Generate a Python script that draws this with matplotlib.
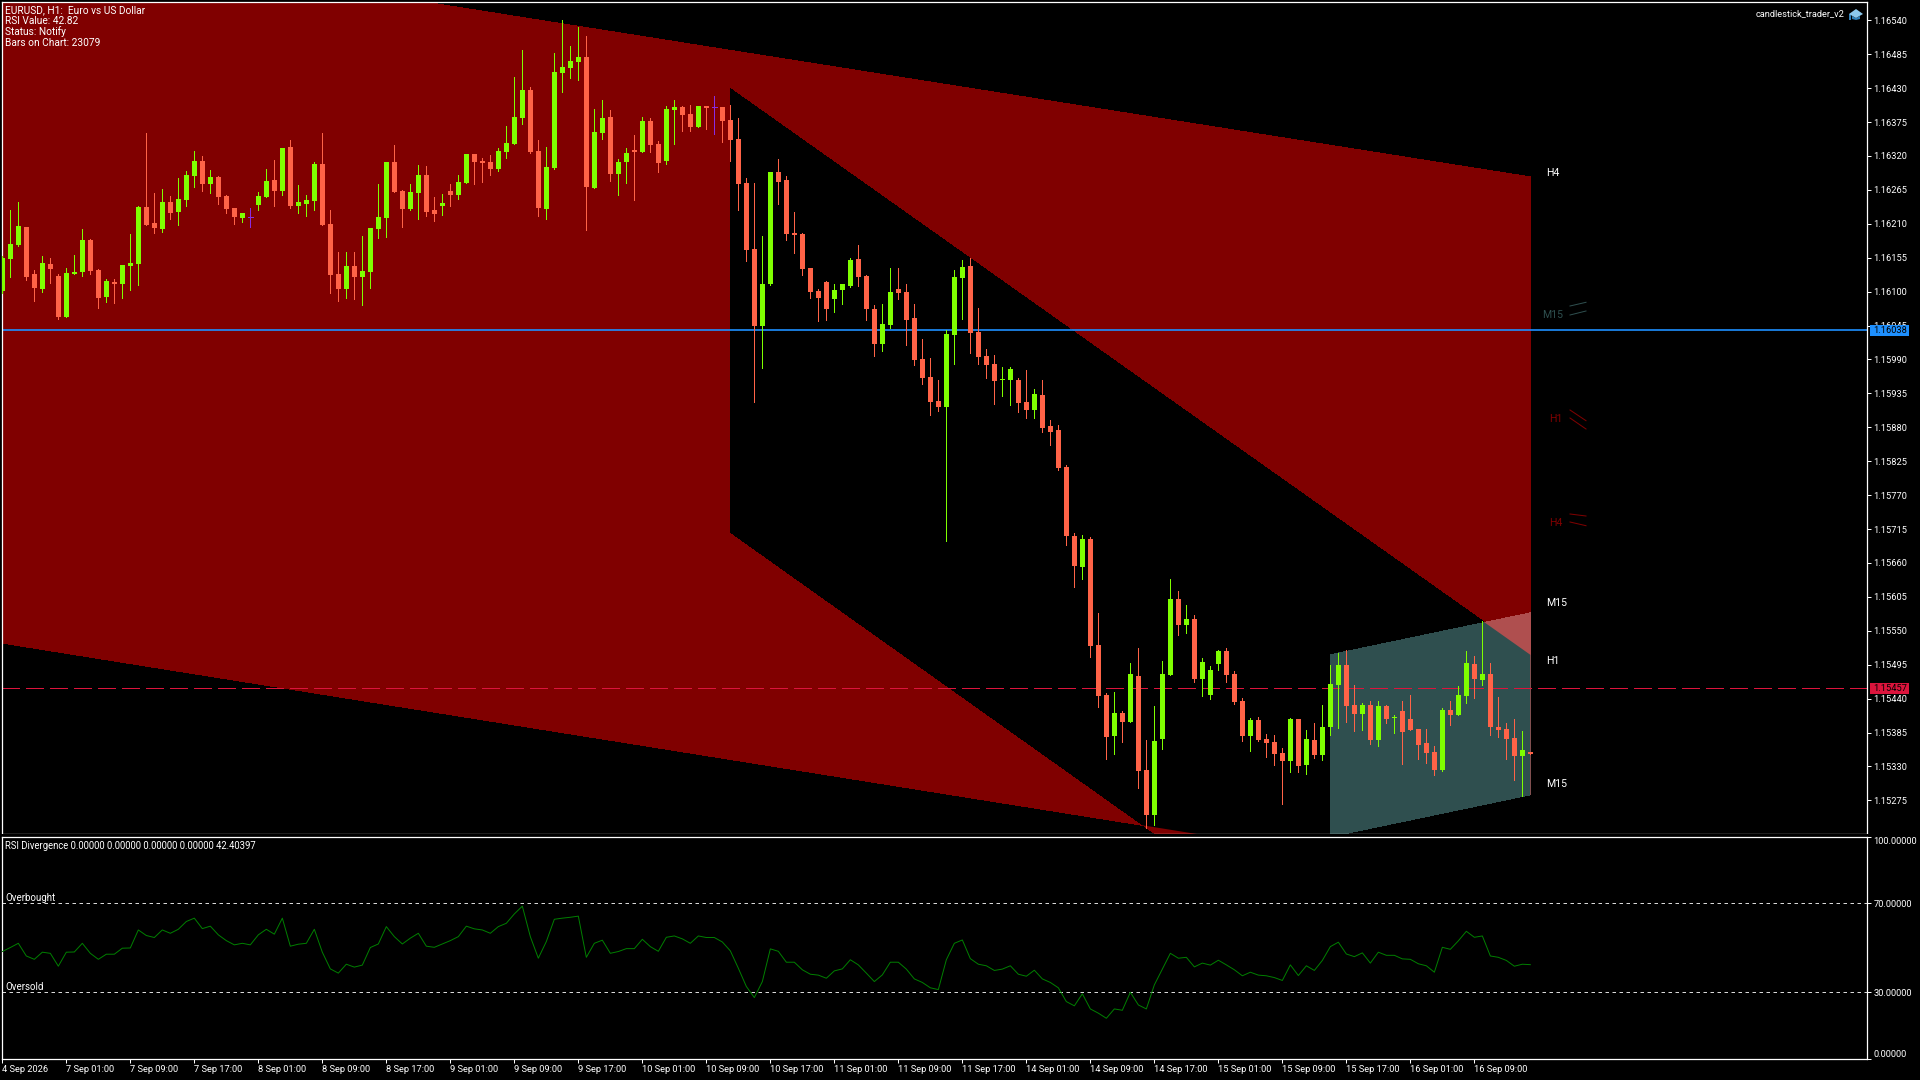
import matplotlib
matplotlib.use("Agg")
import matplotlib.pyplot as plt
import numpy as np
from matplotlib.patches import Polygon, Rectangle
from matplotlib.lines import Line2D

plt.rcParams["font.family"] = ["Roboto", "DejaVu Sans"]

# candles, in points above 1.15000
open_pts = [
    1101, 1153, 1176, 1205, 1129, 1104, 1145, 1125, 1059, 1129,
    1132, 1184, 1135, 1091, 1116, 1112, 1142, 1145, 1237, 1211,
    1202, 1245, 1229, 1249, 1288, 1312, 1275, 1286, 1255, 1236,
    1219, 1221, 1241, 1253, 1281, 1263, 1335, 1239, 1242, 1247,
    1307, 1210, 1129, 1104, 1142, 1124, 1132, 1202, 1219, 1310,
    1263, 1234, 1260, 1289, 1232, 1239, 1263, 1257, 1276, 1323,
    1312, 1310, 1299, 1326, 1339, 1382, 1427, 1328, 1234, 1300,
    1455, 1463, 1472, 1481, 1268, 1357, 1383, 1291, 1310, 1330,
    1326, 1377, 1339, 1312, 1395, 1399, 1388, 1367, 1401, 1399,
    1399, 1378, 1348, 1276, 1169, 1044, 1112, 1294, 1281, 1195,
    1193, 1138, 1101, 1116, 1088, 1103, 1109, 1153, 1125, 1072,
    1015, 1046, 1104, 1099, 1057, 991, 962, 923, 913, 1030,
    1122, 1142, 1035, 996, 983, 957, 957, 957, 921, 908,
    932, 882, 876, 816, 704, 653, 699, 527, 446, 379,
    417, 402, 477, 324, 251, 374, 478, 601, 559, 569,
    472, 446, 496, 517, 480, 436, 379, 405, 374, 370,
    352, 339, 407, 332, 373, 348, 394, 462, 494, 430,
    415, 430, 373, 428, 408, 420, 407, 391, 368, 353,
    324, 421, 413, 444, 496, 470, 480, 394, 391, 376,
    347, 354,
]
high_pts = [
    1158, 1232, 1245, 1205, 1135, 1158, 1155, 1129, 1138, 1159,
    1202, 1185, 1137, 1120, 1120, 1143, 1193, 1239, 1357, 1260,
    1266, 1255, 1284, 1296, 1328, 1320, 1297, 1288, 1257, 1236,
    1228, 1236, 1262, 1299, 1313, 1333, 1346, 1273, 1257, 1310,
    1357, 1232, 1164, 1164, 1164, 1190, 1203, 1275, 1310, 1338,
    1265, 1275, 1305, 1304, 1253, 1258, 1275, 1289, 1323, 1323,
    1317, 1322, 1333, 1369, 1448, 1492, 1432, 1346, 1335, 1487,
    1541, 1498, 1529, 1515, 1396, 1411, 1395, 1315, 1333, 1354,
    1383, 1382, 1344, 1401, 1411, 1401, 1403, 1401, 1401, 1417,
    1399, 1403, 1382, 1284, 1276, 1190, 1294, 1315, 1288, 1229,
    1195, 1138, 1104, 1117, 1112, 1112, 1155, 1176, 1127, 1078,
    1080, 1138, 1138, 1112, 1080, 1023, 992, 957, 1038, 1135,
    1151, 1155, 1073, 1007, 997, 978, 978, 960, 973, 942,
    957, 892, 884, 819, 708, 705, 702, 579, 449, 451,
    420, 498, 522, 373, 428, 501, 634, 614, 592, 576,
    506, 493, 519, 522, 485, 441, 408, 410, 383, 381,
    360, 408, 407, 389, 400, 430, 494, 514, 519, 462,
    433, 436, 436, 430, 413, 436, 446, 391, 391, 363,
    425, 436, 460, 517, 509, 566, 498, 443, 400, 407,
    387, 354,
]
low_pts = [
    1098, 1124, 1174, 1119, 1085, 1099, 1114, 1056, 1059, 1129,
    1125, 1129, 1073, 1083, 1082, 1090, 1103, 1111, 1208, 1195,
    1197, 1218, 1208, 1239, 1270, 1263, 1260, 1242, 1228, 1210,
    1213, 1205, 1232, 1253, 1239, 1257, 1236, 1228, 1223, 1232,
    1208, 1098, 1085, 1090, 1088, 1078, 1106, 1187, 1189, 1262,
    1205, 1232, 1218, 1223, 1215, 1224, 1239, 1250, 1276, 1275,
    1278, 1289, 1296, 1317, 1339, 1372, 1325, 1223, 1218, 1299,
    1424, 1446, 1443, 1200, 1268, 1348, 1279, 1257, 1276, 1249,
    1326, 1326, 1294, 1307, 1339, 1361, 1361, 1367, 1364, 1356,
    1343, 1312, 1232, 1150, 921, 976, 1111, 1242, 1184, 1163,
    1127, 1090, 1052, 1054, 1067, 1080, 1108, 1109, 1054, 996,
    1004, 1041, 1088, 1013, 981, 950, 900, 906, 695, 983,
    1056, 1000, 983, 960, 918, 931, 916, 905, 895, 895,
    872, 851, 811, 689, 621, 634, 507, 426, 342, 350,
    370, 402, 295, 230, 235, 358, 478, 543, 546, 467,
    444, 439, 486, 467, 431, 371, 355, 371, 345, 332,
    269, 321, 321, 318, 344, 340, 381, 392, 402, 387,
    389, 366, 363, 400, 384, 334, 389, 342, 336, 316,
    323, 397, 413, 433, 441, 462, 381, 378, 342, 308,
    282, 350,
]
close_pts = [
    1155, 1177, 1206, 1124, 1106, 1146, 1137, 1059, 1130, 1132,
    1184, 1133, 1090, 1117, 1112, 1143, 1146, 1237, 1208, 1203,
    1245, 1228, 1250, 1289, 1312, 1275, 1286, 1253, 1234, 1221,
    1228, 1221, 1255, 1279, 1263, 1333, 1239, 1245, 1249, 1307,
    1208, 1127, 1104, 1142, 1124, 1133, 1203, 1221, 1310, 1262,
    1234, 1262, 1289, 1229, 1226, 1244, 1257, 1278, 1323, 1310,
    1309, 1299, 1328, 1341, 1383, 1427, 1326, 1236, 1302, 1456,
    1464, 1474, 1481, 1270, 1359, 1382, 1291, 1310, 1325, 1326,
    1377, 1338, 1309, 1396, 1399, 1386, 1367, 1401, 1398, 1399,
    1377, 1346, 1275, 1168, 1044, 1112, 1294, 1278, 1193, 1192,
    1137, 1099, 1090, 1072, 1103, 1112, 1151, 1124, 1072, 1015,
    1048, 1099, 1098, 1054, 989, 960, 921, 913, 1031, 1124,
    1140, 1033, 994, 981, 955, 958, 975, 919, 908, 934,
    879, 872, 814, 703, 655, 699, 525, 444, 378, 417,
    402, 480, 323, 251, 371, 480, 601, 559, 569, 472,
    499, 486, 517, 478, 434, 379, 405, 373, 368, 350,
    339, 407, 331, 374, 348, 394, 464, 494, 428, 415,
    430, 373, 428, 407, 410, 386, 389, 365, 352, 324,
    421, 413, 446, 498, 472, 480, 394, 389, 374, 347,
    357, 350,
]
rsi = [
    48.3, 50.1, 52.0, 46.3, 44.8, 48.0, 47.5, 41.7, 48.0, 48.1,
    52.0, 47.5, 44.8, 47.1, 47.1, 49.8, 49.9, 58.0, 55.5, 54.6,
    58.0, 56.5, 58.3, 61.8, 63.3, 58.6, 59.7, 55.8, 53.2, 51.3,
    52.0, 51.3, 55.8, 58.3, 56.1, 63.3, 50.7, 51.6, 52.0, 58.3,
    48.0, 40.5, 38.6, 42.6, 41.3, 42.2, 50.1, 51.7, 59.5, 55.0,
    51.7, 54.3, 56.5, 50.7, 50.2, 51.7, 53.2, 55.0, 59.7, 58.5,
    58.0, 56.5, 59.5, 61.0, 65.2, 68.7, 55.0, 45.3, 52.8, 62.8,
    63.3, 63.7, 64.2, 45.7, 52.0, 53.4, 47.5, 48.3, 49.6, 49.6,
    53.8, 50.5, 48.4, 54.7, 55.3, 54.0, 52.0, 55.3, 54.6, 54.6,
    52.6, 48.6, 40.8, 32.6, 27.6, 34.8, 49.5, 48.4, 43.5, 43.5,
    40.1, 38.1, 37.7, 36.3, 39.6, 40.5, 44.6, 42.3, 38.6, 34.8,
    37.8, 43.5, 43.5, 40.4, 36.0, 34.4, 32.0, 31.2, 44.6, 52.0,
    53.5, 45.1, 42.6, 41.9, 39.8, 40.4, 41.9, 38.1, 37.2, 39.9,
    36.0, 34.4, 32.0, 25.8, 23.9, 29.3, 22.5, 20.6, 18.3, 22.5,
    21.9, 30.0, 24.3, 22.5, 33.3, 40.4, 47.5, 45.3, 45.7, 41.4,
    43.1, 42.2, 44.4, 42.3, 40.1, 37.4, 39.0, 37.7, 37.4, 36.6,
    35.3, 42.3, 37.5, 41.9, 39.8, 44.3, 50.5, 52.5, 47.2, 46.0,
    47.7, 43.1, 48.0, 46.6, 46.6, 45.0, 44.8, 42.8, 41.9, 39.0,
    50.2, 49.3, 53.1, 57.4, 54.7, 55.3, 46.3, 45.7, 44.3, 41.7,
    42.6, 42.4,
]
purple_bars = [31, 89]

# channels: (bar, points) corners
h4_bars = [0, 191, 191, 0]
h4_pts = [1678, 1286, 134, 530]
h1_bars = [91, 191, 191, 91]
h1_pts = [1429, 511, -211, 710]
m15_bars = [166, 191, 191, 166]
m15_pts = [511, 579, 284, 216]

bid_pts = 1038
ask_pts = 457

price_ticks = [1540, 1485, 1430, 1375, 1320, 1265, 1210, 1155, 1100, 1045, 990, 935,
               880, 825, 770, 715, 660, 605, 550, 495, 440, 385, 330, 275]
time_bars = list(range(0, 192, 8))
time_labels = ["4 Sep 2026", "7 Sep 01:00", "7 Sep 09:00", "7 Sep 17:00", "8 Sep 01:00",
               "8 Sep 09:00", "8 Sep 17:00", "9 Sep 01:00", "9 Sep 09:00", "9 Sep 17:00",
               "10 Sep 01:00", "10 Sep 09:00", "10 Sep 17:00", "11 Sep 01:00", "11 Sep 09:00",
               "11 Sep 17:00", "14 Sep 01:00", "14 Sep 09:00", "14 Sep 17:00", "15 Sep 01:00",
               "15 Sep 09:00", "15 Sep 17:00", "16 Sep 01:00", "16 Sep 09:00"]
rsi_ticks = [100, 70, 30, 0]
rsi_labels = ["100.00000", "70.00000", "30.00000", "0.00000"]

header_lines = ["EURUSD, H1:  Euro vs US Dollar", "RSI Value: 42.82", "Status: Notify", "Bars on Chart: 23079"]

BULL = "#7FFF00"
BEAR = "#FF6347"
DOJI = "#8A2BE2"
CHAN_RED = "#800000"
CHAN_TEAL = "#2F4F4F"
CHAN_MIX = "#AF4F4F"  # teal xor red, how the terminal blends filled objects
BLUE = "#1E90FF"
CRIMSON = "#DC143C"
FS = 6.7


def price(pts):
    return 1.15 + np.asarray(pts, dtype=float) / 100000


def fx(px):
    return px / 1920


def fy(py):
    return 1 - py / 1080


def label(px, py, s, color="white", ha="left", size=FS, z=6):
    fig.text(fx(px), fy(py), s, color=color, ha=ha, va="center", fontsize=size, zorder=z)


def corners(bars, pts):
    return np.column_stack([bars, price(pts)])


def widened(bars, pts, extra=0.5):
    # same channel carried a bit further right, so the black overlap covers the last pixel column
    up_slope = (pts[1] - pts[0]) / (bars[1] - bars[0])
    low_slope = (pts[2] - pts[3]) / (bars[2] - bars[3])
    new_bars = [bars[0], bars[1] + extra, bars[2] + extra, bars[3]]
    new_pts = [pts[0], pts[1] + up_slope * extra, pts[2] + low_slope * extra, pts[3]]
    return corners(new_bars, new_pts)


fig = plt.figure(figsize=(19.2, 10.8), dpi=100, facecolor="black")
ax = fig.add_axes([fx(2), fy(834), fx(1865), 832 / 1080], facecolor="black")
sub = fig.add_axes([fx(2), fy(1059), fx(1865), 222.5 / 1080], facecolor="black")

xlim = (-0.04, 233.08)
ax.set_xlim(*xlim)
sub.set_xlim(*xlim)
ax.set_ylim(price(220.4), price(1569.7))
sub.set_ylim(0, 100)

# filled channels
h4_poly = Polygon(corners(h4_bars, h4_pts), closed=True, fc=CHAN_RED, ec="none", aa=False, zorder=1)
h1_poly = Polygon(corners(h1_bars, h1_pts), closed=True, fc=CHAN_RED, ec="none", aa=False, zorder=1)
ax.add_patch(h4_poly)
ax.add_patch(h1_poly)
h4_clip = Polygon(widened(h4_bars, h4_pts), closed=True, transform=ax.transData)
overlap = Polygon(widened(h1_bars, h1_pts), closed=True, fc="black", ec="none", aa=False, zorder=1.1)
ax.add_patch(overlap)
overlap.set_clip_path(h4_clip)
m15_mix = Polygon(corners(m15_bars, m15_pts), closed=True, fc=CHAN_MIX, ec="none", aa=False, zorder=1.2)
ax.add_patch(m15_mix)
m15_teal = Polygon(corners(m15_bars, m15_pts), closed=True, fc=CHAN_TEAL, ec="none", aa=False, zorder=1.3)
ax.add_patch(m15_teal)
m15_teal.set_clip_path(h1_poly)

# price lines
ax.axhline(price(bid_pts), color=BLUE, lw=1.2, zorder=2)
ax.axhline(price(ask_pts), color=CRIMSON, lw=1.0, ls=(0, (18 * 0.72, 6 * 0.72)), zorder=2, aa=False)

# candles
bars = np.arange(len(close_pts))
o = np.array(open_pts)
h = np.array(high_pts)
l = np.array(low_pts)
c = np.array(close_pts)
up = c > o
dn = c < o
for mask, col in ((up, BULL), (dn, BEAR)):
    ax.vlines(bars[mask], price(l[mask]), price(h[mask]), color=col, lw=0.72, zorder=3, antialiased=False)
    body_low = np.minimum(o[mask], c[mask])
    body_h = np.maximum(np.abs(c[mask] - o[mask]), 2) / 100000
    ax.bar(bars[mask], body_h, width=5 / 8, bottom=price(body_low), color=col, lw=0, zorder=3.1, antialiased=False)
ax.vlines(bars[purple_bars], price(l[purple_bars]), price(h[purple_bars]), color=DOJI, lw=0.72, zorder=3, antialiased=False)
ax.hlines(price(o[purple_bars]), bars[purple_bars] - 0.31, bars[purple_bars] + 0.31, color=DOJI, lw=0.72, zorder=3, antialiased=False)

# indicator
sub.plot(bars, rsi, color="#008000", lw=0.7, zorder=3)
for lev in (70, 30):
    sub.axhline(lev, color="#D8D8D8", lw=0.72, ls=(0, (3.5, 3.5)), zorder=2)

# axes dressing
for a in (ax, sub):
    for s in a.spines.values():
        s.set_color("white")
        s.set_linewidth(0.9)
    a.yaxis.tick_right()
    a.tick_params(axis="y", colors="white", length=3, width=0.72, pad=1.5, labelsize=FS)

ax.set_xticks([])
ax.set_yticks(price(price_ticks))
ax.set_yticklabels(["%.5f" % p for p in price(price_ticks)])

sub.set_yticks(rsi_ticks)
sub.set_yticklabels(rsi_labels)
sub.get_yticklabels()[0].set_va("top")
sub.get_yticklabels()[3].set_va("bottom")

sub.set_xticks(time_bars)
sub.set_xticklabels(time_labels, ha="left")
sub.tick_params(axis="x", colors="white", length=3.2, width=0.72, pad=1, labelsize=FS)

# gap between the two panels
fig.add_artist(Rectangle((0, fy(835.6)), 1, 1.2 / 1080, fc="black", ec="none", zorder=0.5))

# current price flags
fig.add_artist(Rectangle((fx(1870), fy(336)), 39 / 1920, 11 / 1080, fc=BLUE, ec="none", zorder=5))
fig.add_artist(Rectangle((fx(1870), fy(693.7)), 39 / 1920, 11 / 1080, fc=CRIMSON, ec="none", zorder=5))
label(1873, 330.5, "%.5f" % price(bid_pts), color="black")
label(1873, 688.5, "%.5f" % price(ask_pts), color="black")

# texts on the chart
for py, line in zip((10, 21, 32, 43), header_lines):
    label(5, py, line, size=7.3)
label(1844, 13.7, "candlestick_trader_v2", ha="right")
label(5, 846, "RSI Divergence 0.00000 0.00000 0.00000 0.00000 42.40397", size=6.85)
label(5, 898, "Overbought", size=7)
label(5, 987, "Oversold", size=7)

label(1546, 173, "H4", size=7.6)
label(1546, 603, "M15", size=7.6)
label(1546, 661, "H1", size=7.6)
label(1546, 784, "M15", size=7.6)
label(1542, 315, "M15", color=CHAN_TEAL, size=7.6)
label(1549, 419, "H1", color=CHAN_RED, size=7.6)
label(1549, 523, "H4", color=CHAN_RED, size=7.6)

# little slope marks next to the faded labels
marks = [
    ((1570, 1586), (306, 302.3), CHAN_TEAL),
    ((1570, 1586), (315, 311), CHAN_TEAL),
    ((1570, 1586), (410, 420.7), CHAN_RED),
    ((1570, 1586), (418, 429), CHAN_RED),
    ((1570, 1586), (514, 516), CHAN_RED),
    ((1570, 1586), (522, 525.7), CHAN_RED),
]
for xs, ys, col in marks:
    fig.add_artist(Line2D([fx(xs[0]), fx(xs[1])], [fy(ys[0]), fy(ys[1])], color=col, lw=0.72, zorder=5))

# graduation cap icon
cap_top = [(1849, 14), (1856, 9), (1863, 14), (1856, 18)]
cap_base = [(1852, 16), (1856, 18), (1860, 16), (1860, 19), (1856, 20), (1852, 19)]
fig.add_artist(Polygon([(fx(a), fy(b)) for a, b in cap_base], closed=True, fc="#2F7FB8", ec="none", zorder=5))
fig.add_artist(Polygon([(fx(a), fy(b)) for a, b in cap_top], closed=True, fc="#8CC8EC", ec="none", zorder=5.1))
fig.add_artist(Rectangle((fx(1849), fy(20)), 2 / 1920, 6 / 1080, fc="#2F7FB8", ec="none", zorder=5))

fig.savefig("out.png", dpi=100, facecolor="black")
